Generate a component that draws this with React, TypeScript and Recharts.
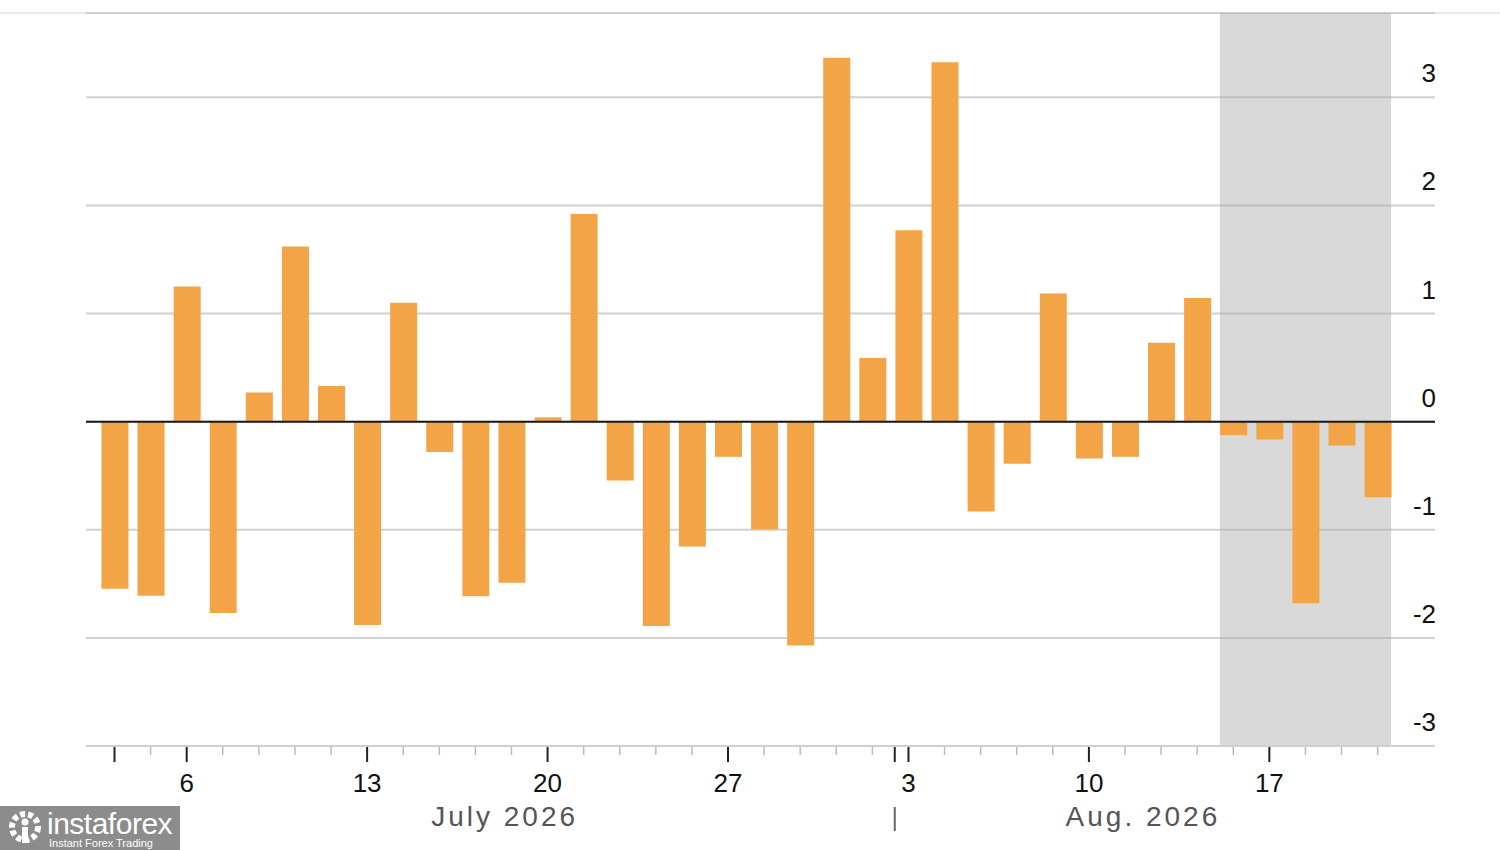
import { BarChart, Bar, XAxis, YAxis, CartesianGrid, ReferenceArea, ReferenceLine } from 'recharts';

// trading days shown on the chart (Jul 3 is the Independence Day holiday)
const tradingDays = [
  '2026-07-01', '2026-07-02',
  '2026-07-06', '2026-07-07', '2026-07-08', '2026-07-09', '2026-07-10',
  '2026-07-13', '2026-07-14', '2026-07-15', '2026-07-16', '2026-07-17',
  '2026-07-20', '2026-07-21', '2026-07-22', '2026-07-23', '2026-07-24',
  '2026-07-27', '2026-07-28', '2026-07-29', '2026-07-30', '2026-07-31',
  '2026-08-03', '2026-08-04', '2026-08-05', '2026-08-06', '2026-08-07',
  '2026-08-10', '2026-08-11', '2026-08-12', '2026-08-13', '2026-08-14',
  '2026-08-17', '2026-08-18', '2026-08-19', '2026-08-20',
];

const changes = [
  -1.545, -1.61,
  1.25, -1.77, 0.27, 1.62, 0.33,
  -1.88, 1.1, -0.28, -1.615, -1.49,
  0.04, 1.92, -0.545, -1.89, -1.155,
  -0.325, -0.995, -2.07, 3.365, 0.59,
  1.77, 3.325, -0.83, -0.39, 1.185,
  -0.34, -0.325, 0.73, 1.145, -0.125,
  -0.165, -1.68, -0.22, -0.7,
];

const shadedFrom = '2026-08-14';
const shadedTo = '2026-08-20';

const monthNames: Record<string, string> = {
  '2026-07': 'July 2026',
  '2026-08': 'Aug. 2026',
};

const yTicks = [-3, -2, -1, 0, 1, 2, 3];

const FONT = "'Liberation Sans', Arial, sans-serif";
const BAR = '#F2A446';
const HALF_BAR = 0.374; // half a bar, in day units

const dayOf = (s: string) => {
  const [y, m, d] = s.split('-').map(Number);
  return new Date(y, m - 1, d);
};

const data = tradingDays.map((d, i) => ({ idx: i, date: d, value: changes[i] }));

// month boundaries and label centres along the day index
const monthKeys = Array.from(new Set(tradingDays.map(d => d.slice(0, 7))));
const months = monthKeys.map((k, mi) => {
  const first = tradingDays.findIndex(d => d.startsWith(k));
  const last = tradingDays.length - 1 - [...tradingDays].reverse().findIndex(d => d.startsWith(k));
  const start = mi === 0 ? first : first - 0.38;
  const end = mi === monthKeys.length - 1 ? last + HALF_BAR : tradingDays.findIndex(d => d.startsWith(monthKeys[mi + 1])) - 0.38;
  return { key: k, label: monthNames[k], start, center: (start + end) / 2 };
});

type TickInfo = { kind: 'day' | 'sep' | 'month'; text?: string; major?: boolean; bar?: boolean };
const tickInfo = new Map<number, TickInfo>();
data.forEach(d => {
  const dt = dayOf(d.date);
  const monday = dt.getDay() === 1;
  tickInfo.set(d.idx, {
    kind: 'day',
    text: monday ? String(dt.getDate()) : '',
    major: monday || d.idx === 0,
    bar: d.idx === 0,
  });
});
months.forEach(m => {
  if (!tickInfo.has(m.start)) tickInfo.set(m.start, { kind: 'sep' });
  tickInfo.set(m.center, { kind: 'month', text: m.label });
});
const xTicks = Array.from(tickInfo.keys());

const XTick = (props: any) => {
  const { x, y, payload } = props;
  const info = tickInfo.get(payload.value);
  if (!info) return null;
  if (info.kind === 'month') {
    return (
      <text x={x} y={y + 80} textAnchor="middle" fontSize={28} fill="#555" letterSpacing={3} fontFamily={FONT}>
        {info.text}
      </text>
    );
  }
  const dark = info.kind === 'sep' || info.major;
  return (
    <g>
      <line x1={x} x2={x} y1={y + 1} y2={y + (dark ? 16 : 9)} stroke={dark ? '#222' : '#bbb'} strokeWidth={dark ? 2 : 1.5} />
      {info.text ? (
        <text x={x} y={y + 46} textAnchor="middle" fontSize={26} fill="#111" fontFamily={FONT}>
          {info.text}
        </text>
      ) : null}
      {info.kind === 'sep' || info.bar ? (
        <line x1={x} x2={x} y1={y + 61} y2={y + 85} stroke="#666" strokeWidth={2} />
      ) : null}
    </g>
  );
};

const YTick = (props: any) => {
  const { y, payload } = props;
  return (
    <text x={1436} y={y - 15} textAnchor="end" fontSize={26} fill="#111" fontFamily={FONT}>
      {payload.value}
    </text>
  );
};

const Watermark = () => (
  <div style={{ position: 'absolute', left: 0, top: 806, width: 180, height: 44, background: '#8c8c8c', color: '#fff', fontFamily: FONT, overflow: 'hidden' }}>
    <svg width={40} height={40} style={{ position: 'absolute', left: 5, top: 3 }}>
      <circle cx={20} cy={18} r={13} fill="none" stroke="#fff" strokeWidth={6} strokeDasharray="5 3" />
      <circle cx={20} cy={13} r={3.5} fill="#fff" />
      <rect x={17} y={18} width={6} height={16} fill="#fff" />
    </svg>
    <div style={{ position: 'absolute', left: 47, top: 2, fontSize: 30, lineHeight: '32px', letterSpacing: -0.5 }}>instaforex</div>
    <div style={{ position: 'absolute', left: 49, top: 31, fontSize: 11, lineHeight: '12px' }}>Instant Forex Trading</div>
  </div>
);

export default function App() {
  const x1 = tradingDays.indexOf(shadedFrom) - HALF_BAR;
  const x2 = tradingDays.indexOf(shadedTo) + HALF_BAR;
  return (
    <div style={{ position: 'absolute', left: 0, top: 0, width: 1500, height: 850, background: '#fff', overflow: 'hidden' }}>
      <div style={{ position: 'absolute', left: 0, top: 12, width: 1500, height: 2, background: '#e9e9e9' }} />
      <BarChart width={1500} height={850} data={data} margin={{ top: 13, right: 0, bottom: 0, left: 86 }}>
        <CartesianGrid vertical={false} stroke="#d0d0d0" strokeWidth={2} />
        <XAxis
          dataKey="idx"
          type="number"
          domain={[-0.79, 36.59]}
          allowDataOverflow
          ticks={xTicks}
          interval={0}
          height={104}
          axisLine={{ stroke: '#cfcfcf', strokeWidth: 2 }}
          tickLine={false}
          tickSize={0}
          tickMargin={0}
          tick={<XTick />}
        />
        <YAxis
          orientation="right"
          width={65}
          domain={[-3, 3.78]}
          allowDataOverflow
          ticks={yTicks}
          interval={0}
          axisLine={false}
          tickLine={false}
          tick={<YTick />}
        />
        <ReferenceArea x1={x1} x2={x2} fill="#aeaeae" fillOpacity={0.47} stroke="none" ifOverflow="extendDomain" />
        <ReferenceLine y={0} stroke="#1a1a1a" strokeWidth={2} />
        <Bar dataKey="value" fill={BAR} barSize={27} isAnimationActive={false} />
      </BarChart>
      <Watermark />
    </div>
  );
}
